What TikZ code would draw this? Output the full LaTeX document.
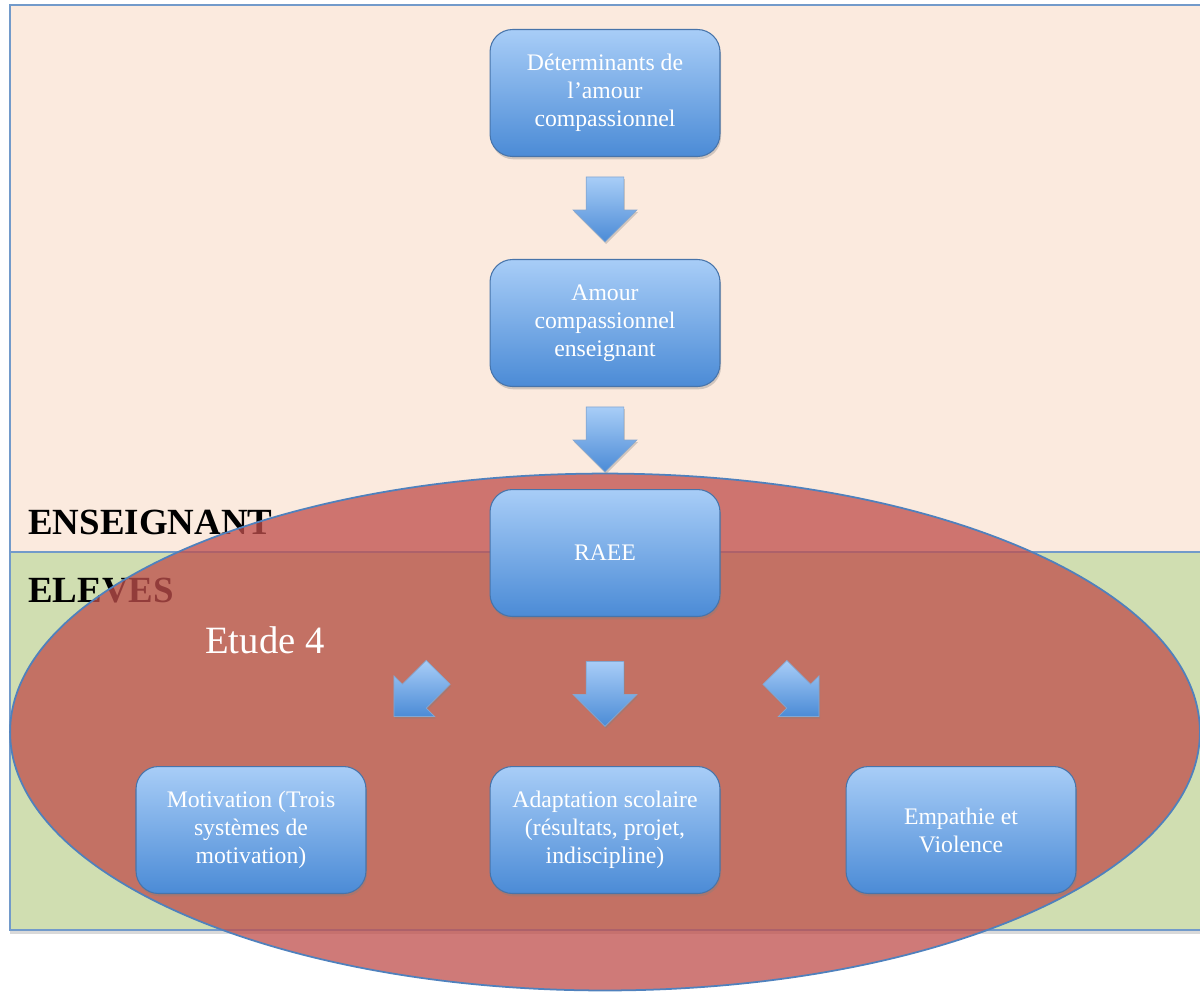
\documentclass[tikz,border=0pt]{standalone}
\usepackage{fontspec}
\setmainfont{Liberation Serif}
\usetikzlibrary{positioning, calc, shapes.arrows, shadows}
\definecolor{peachbg}{HTML}{FBEADE}
\definecolor{greenbg}{HTML}{D0DEB1}
\definecolor{zonered}{HTML}{C0504D}
\definecolor{edgeblue}{HTML}{4F81BD}
\definecolor{boxtop}{HTML}{A8CDF7}
\definecolor{boxbottom}{HTML}{4B8BD6}
\tikzset{
  zone_box/.style={draw=edgeblue!80, line width=1pt},
  zone_label/.style={anchor=base west, font=\fontsize{21}{25}\selectfont\bfseries, text=black, inner sep=0pt},
  step_box/.style={rounded corners=0.45cm, draw=edgeblue!90!black, line width=0.6pt, top color=boxtop, bottom color=boxbottom, minimum width=4.6cm, minimum height=2.54cm, text=white, align=center, font=\fontsize{13.5}{16}\selectfont, drop shadow={opacity=0.35, shadow xshift=0.6pt, shadow yshift=-1.6pt}},
  flow_arrow/.style={single arrow, single arrow tip angle=90, single arrow head extend=0.26cm, inner xsep=0pt, inner ysep=0.37cm, minimum width=1.26cm, minimum height=1.3cm, draw=edgeblue!70, line width=0.4pt, top color=boxtop, bottom color=boxbottom, drop shadow={opacity=0.35, shadow xshift=0.6pt, shadow yshift=-1.2pt}},
  side_arrow/.style={flow_arrow, single arrow head extend=0.24cm, inner ysep=0.33cm, minimum width=1.14cm, minimum height=1.25cm}
}
\begin{document}
\begin{tikzpicture}[x=0.02cm, y=-0.02cm]
\useasboundingbox (0,0) rectangle (1200,992);
% zones
\draw[zone_box, fill=peachbg] (10,5) rectangle (1210,552);
\draw[zone_box, fill=greenbg, drop shadow={opacity=0.3, shadow xshift=0pt, shadow yshift=-2pt}] (10,552) rectangle (1210,930);
\node[zone_label] (teacher_label) at (28,534) {ENSEIGNANT};
\node[zone_label] (pupil_label) at (28,602) {ELEVES};
\fill[zonered, opacity=0.76] (605,732) ellipse [x radius=11.9cm, y radius=5.17cm];
\draw[edgeblue, line width=1pt] (605,732) ellipse [x radius=11.9cm, y radius=5.17cm];
\node[anchor=base west, inner sep=0pt, text=white, font=\fontsize{22}{26}\selectfont] (study_label) at (205,653) {Etude 4};
% boxes
\node[step_box] (determinants) at (605,93) {Déterminants de\\l’amour\\compassionnel};
\node[step_box] (amour) at (605,323) {Amour\\compassionnel\\enseignant};
\node[step_box] (raee) at (605,553) {RAEE};
\node[step_box] (motivation) at (251,830) {Motivation (Trois\\systèmes de\\motivation)};
\node[step_box] (adaptation) at (605,830) {Adaptation scolaire\\(résultats,  projet,\\indiscipline)};
\node[step_box] (empathie) at (961,830) {Empathie et\\Violence};
% arrows
\node[flow_arrow, rotate=-90] (arrow_a) at ($(determinants.south)!0.5!(amour.north)+(0,-8)$) {};
\node[flow_arrow, rotate=-90] (arrow_b) at ($(amour.south)!0.5!(raee.north)+(0,-8)$) {};
\node[flow_arrow, rotate=-90] (arrow_c) at ($(raee.south)!0.5!(adaptation.north)+(0,-7)$) {};
\node[side_arrow, rotate=-135] (arrow_left) at ($(raee.south west)!0.5!(motivation.north east)+(-6,-3)$) {};
\node[side_arrow, rotate=-45] (arrow_right) at ($(raee.south east)!0.5!(empathie.north west)+(8,-3)$) {};
\end{tikzpicture}
\end{document}
